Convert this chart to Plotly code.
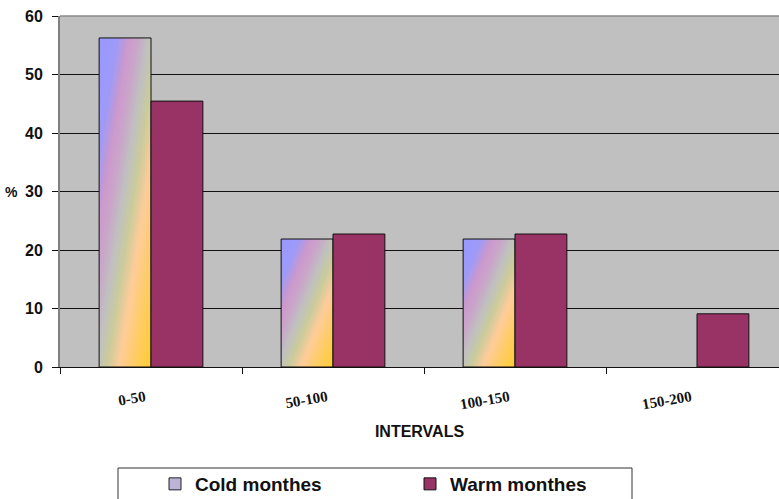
import plotly.graph_objects as go

# Share of observations per interval (%)
categories = ["0-50", "50-100", "100-150", "150-200"]
cold_months = [56.25, 21.875, 21.875, 0]
warm_months = [45.45, 22.73, 22.73, 9.09]
y_ticks = [0, 10, 20, 30, 40, 50, 60]

BARGAP = 0.43
SLOT = (1 - BARGAP) / 2  # width of one bar in category units

# Diagonal "rainbow" fill used for the cold-month bars
COLD_STOPS = [
    (0.00, "#9999FF"),
    (0.18, "#9D9AF8"),
    (0.29, "#CC99CC"),
    (0.38, "#C9A6C9"),
    (0.48, "#C0C0C0"),
    (0.58, "#CACB9C"),
    (0.70, "#FFCC99"),
    (0.84, "#FFCC66"),
    (1.00, "#FFCC33"),
]


def _rgb(h):
    h = h.lstrip("#")
    return tuple(int(h[i:i + 2], 16) for i in (0, 2, 4))


def color_at(s):
    for (s0, c0), (s1, c1) in zip(COLD_STOPS, COLD_STOPS[1:]):
        if s0 <= s <= s1:
            t = (s - s0) / (s1 - s0) if s1 > s0 else 0
            a, b = _rgb(c0), _rgb(c1)
            return "rgb(%d,%d,%d)" % tuple(round(a[k] + (b[k] - a[k]) * t) for k in range(3))
    return COLD_STOPS[-1][1]


def clip(poly, f):
    """Keep the part of a polygon where f(p) >= 0."""
    out = []
    n = len(poly)
    for i in range(n):
        p, q = poly[i], poly[(i + 1) % n]
        fp, fq = f(p), f(q)
        if fp >= 0:
            out.append(p)
        if (fp >= 0) != (fq >= 0):
            t = fp / (fp - fq)
            out.append((p[0] + (q[0] - p[0]) * t, p[1] + (q[1] - p[1]) * t))
    return out


def gradient_shapes(i, value, steps=36):
    shapes = []
    if value <= 0:
        return shapes
    x_left = i - SLOT
    square = [(0, 0), (1, 0), (1, 1), (0, 1)]
    for k in range(steps):
        a = k / steps
        b = min(1.0, (k + 1.6) / steps)
        lo, hi = 2 * a - 1, 2 * b - 1
        poly = clip(square, lambda p, lo=lo: (p[0] - p[1]) - lo)
        poly = clip(poly, lambda p, hi=hi: hi - (p[0] - p[1]))
        if len(poly) < 3:
            continue
        pts = [(x_left + u * SLOT, v * value) for u, v in poly]
        path = "M " + " L ".join("%.5f,%.5f" % p for p in pts) + " Z"
        shapes.append(dict(
            type="path", path=path, xref="x", yref="y", layer="between",
            fillcolor=color_at((a + b) / 2), line=dict(width=0),
        ))
    return shapes


x_pos = list(range(len(categories)))
SANS = "Liberation Sans, Arial"

fig = go.Figure()

# Legend entry for the cold months
fig.add_trace(go.Bar(
    x=x_pos, y=[None] * len(x_pos), name="Cold monthes", offsetgroup="cold",
    marker=dict(color="#BDB2D8", line=dict(color="#222222", width=1)),
))
# Cold-month bars: outline only, the fill comes from the gradient shapes
fig.add_trace(go.Bar(
    x=x_pos, y=cold_months, name="Cold monthes", offsetgroup="cold", showlegend=False,
    marker=dict(color="rgba(0,0,0,0)",
                line=dict(color="#111111", width=[1 if v > 0 else 0 for v in cold_months])),
    hoverinfo="skip",
))
fig.add_trace(go.Bar(
    x=x_pos, y=warm_months, name="Warm monthes", offsetgroup="warm",
    marker=dict(color="#993366",
                line=dict(color="#111111", width=[1 if v > 0 else 0 for v in warm_months])),
))

shapes = []
for i, v in enumerate(cold_months):
    shapes += gradient_shapes(i, v)

# plot frame on top, and the legend box
shapes.append(dict(type="line", xref="paper", yref="paper", x0=0, x1=1, y0=1, y1=1,
                   line=dict(color="#8A8A8A", width=1.5), layer="above"))
shapes.append(dict(type="rect", xref="paper", yref="paper",
                   x0=(118 - 60) / 719, x1=(632 - 60) / 719,
                   y0=(367 - 510) / 351, y1=(367 - 468) / 351,
                   line=dict(color="#333333", width=1), fillcolor="white", layer="above"))

fig.update_layout(
    width=779, height=499,
    margin=dict(l=60, r=0, t=16, b=132, autoexpand=False),
    paper_bgcolor="white", plot_bgcolor="#C0C0C0",
    barmode="group", bargap=BARGAP, bargroupgap=0,
    shapes=shapes,
    showlegend=True,
    legend=dict(
        orientation="h", xref="container", yref="container",
        x=155 / 779, xanchor="left", y=1 - 465 / 499, yanchor="top",
        entrywidth=210, entrywidthmode="pixels",
        font=dict(family=SANS, size=19, color="#111111", weight="bold"),
        bgcolor="rgba(0,0,0,0)", borderwidth=0,
        traceorder="normal",
    ),
    annotations=[dict(
        text="%", xref="paper", yref="y", x=0, y=30, xshift=-49,
        xanchor="center", yanchor="middle", showarrow=False,
        font=dict(family=SANS, size=14, color="#111111", weight="bold"),
    )],
)

fig.update_xaxes(
    range=[-0.5, -0.5 + 719 / 182],
    tickvals=x_pos, ticktext=categories,
    ticks="", tickangle=-10, ticklabelstandoff=15, ticklabelshift=-6,
    tickfont=dict(family="Liberation Serif, Times New Roman", size=15, color="#111111",
                  weight="bold"),
    minor=dict(tickmode="array", tickvals=[-0.5, 0.5, 1.5, 2.5, 3.5],
               ticks="outside", ticklen=6, tickcolor="#111111", tickwidth=1, showgrid=False),
    showgrid=False, zeroline=False,
    showline=True, linecolor="#111111", linewidth=1,
    title=dict(text="INTERVALS", standoff=14,
               font=dict(family=SANS, size=16, color="#111111", weight="bold")),
)
fig.update_yaxes(
    range=[0, 60], tickvals=y_ticks,
    ticks="outside", ticklen=6, tickcolor="#111111", tickwidth=1,
    ticklabelstandoff=6,
    tickfont=dict(family=SANS, size=16, color="#111111", weight="bold"),
    showgrid=True, gridcolor="#111111", gridwidth=1, zeroline=False,
    showline=True, linecolor="#808080", linewidth=2,
)

fig.write_html("out.html")
